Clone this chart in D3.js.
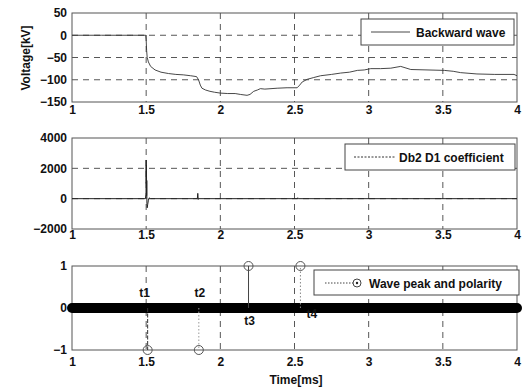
<!DOCTYPE html>
<html>
<head>
<meta charset="utf-8">
<script src="https://cdn.jsdelivr.net/npm/d3@7/dist/d3.min.js"></script>
<style>
  html, body { margin: 0; padding: 0; background: #fff; }
  svg { display: block; }
  text { font-family: "Liberation Sans", Arial, sans-serif; font-weight: bold; fill: #111; }
</style>
</head>
<body>
<svg id="chart" width="526" height="390"></svg>
<script>
// ---------- data ----------
const xTicks = [1, 1.5, 2, 2.5, 3, 3.5, 4];
const xTickLabels = ["1", "1.5", "2", "2.5", "3", "3.5", "4"];

const voltTicks = [50, 0, -50, -100, -150];
const coefTicks = [4000, 2000, 0, -2000];
const peakTicks = [1, 0, -1];

// Backward wave (time ms, voltage kV)
const waveTime = [1.0, 1.2, 1.4, 1.497, 1.5, 1.503, 1.507, 1.515, 1.53, 1.56, 1.6, 1.65, 1.7, 1.75,
  1.8, 1.84, 1.853, 1.865, 1.876, 1.9, 1.93, 1.96, 2.0, 2.05, 2.1, 2.135, 2.18, 2.2, 2.225,
  2.25, 2.27, 2.3, 2.383, 2.45, 2.518, 2.535, 2.552, 2.586, 2.63, 2.676, 2.75, 2.811, 2.87,
  2.924, 2.97, 3.014, 3.08, 3.149, 3.216, 3.284, 3.4, 3.51, 3.57, 3.62, 3.73, 3.85, 3.98, 4.0];
const waveVolt = [0, 0, 0, 0, -10, -34, -50, -60, -70, -78, -83, -86, -88, -89,
  -91, -93, -100, -112, -119, -123, -126, -128, -130, -131, -131, -133, -135, -133, -126,
  -123, -120, -121, -119, -118, -118, -112, -105, -99, -95, -91, -88, -85, -83,
  -79, -78, -75, -75, -74, -70, -77, -78, -79, -81, -84, -87, -88, -88, -91];

// Db2 D1 coefficient
const coefTime = [1.0, 1.495, 1.499, 1.5, 1.501, 1.502, 1.503, 1.504, 1.505, 1.507, 1.51, 1.515,
  1.52, 1.53, 1.845, 1.848, 1.851, 1.855, 2.52, 2.522, 2.525, 4.0];
const coefValue = [0, 0, 300, 2550, 1000, 2200, 200, 1200, -300, -600, -400, -100,
  50, 0, 0, 350, -50, 0, 0, 60, 0, 0];

// Wave peak and polarity
const peakTime = [1.51, 1.855, 2.19, 2.54];
const peakPolarity = [-1, -1, 1, 1];
const peakLabels = ["t1", "t2", "t3", "t4"];
const zeroBandTime = [1, 4];

// ---------- layout ----------
const svg = d3.select("#chart");
const x = d3.scaleLinear().domain([1, 4]).range([72, 517]);
const yV = d3.scaleLinear().domain([-150, 50]).range([102, 13]);
const yC = d3.scaleLinear().domain([-2000, 4000]).range([229, 138]);
const yP = d3.scaleLinear().domain([-1, 1]).range([350, 266]);

const frameColor = "#555";
const gridColor = "#444";

function panel(y, yTicks, xPad) {
  const g = svg.append("g");
  const [y0, y1] = y.range();
  const [x0, x1] = x.range();
  // grid
  g.selectAll(".vg").data(xTicks.slice(1, -1)).enter().append("line")
    .attr("x1", d => x(d)).attr("x2", d => x(d))
    .attr("y1", y1).attr("y2", y0)
    .attr("stroke", gridColor).attr("stroke-width", 0.9).attr("stroke-dasharray", "6,5");
  g.selectAll(".hg").data(yTicks.slice(1, -1)).enter().append("line")
    .attr("x1", x0).attr("x2", x1)
    .attr("y1", d => y(d)).attr("y2", d => y(d))
    .attr("stroke", gridColor).attr("stroke-width", 0.9).attr("stroke-dasharray", "6,5");
  // frame
  g.append("rect").attr("x", x0).attr("y", y1).attr("width", x1 - x0).attr("height", y0 - y1)
    .attr("fill", "none").attr("stroke", frameColor).attr("stroke-width", 1);
  // axes
  const ax = g.append("g").attr("transform", `translate(0,${y0})`)
    .call(d3.axisBottom(x).tickValues(xTicks).tickFormat((d, i) => xTickLabels[i]).tickSize(0).tickPadding(xPad));
  ax.select(".domain").remove();
  const ay = g.append("g").attr("transform", `translate(${x0},0)`)
    .call(d3.axisLeft(y).tickValues(yTicks).tickFormat(d3.format("d")).tickSize(0).tickPadding(5));
  ay.select(".domain").remove();
  g.selectAll(".tick text").attr("font-size", 12).attr("font-family", "Liberation Sans, Arial, sans-serif")
    .attr("font-weight", "bold").attr("fill", "#111");
  return g;
}

// Panel 1
const p1 = panel(yV, voltTicks, 3);
const waveData = waveTime.map((t, i) => [t, waveVolt[i]]);
p1.append("path").datum(waveData)
  .attr("d", d3.line().x(d => x(d[0])).y(d => yV(d[1])))
  .attr("fill", "none").attr("stroke", "#333").attr("stroke-width", 0.9);
svg.append("text").attr("transform", "translate(30,58) rotate(-90)")
  .attr("text-anchor", "middle").attr("font-size", 12).text("Voltage[kV]");

// legend 1
svg.append("rect").attr("x", 361).attr("y", 19).attr("width", 153).attr("height", 26)
  .attr("fill", "#fff").attr("stroke", "#444").attr("stroke-width", 1);
svg.append("line").attr("x1", 371).attr("x2", 410).attr("y1", 32).attr("y2", 32)
  .attr("stroke", "#333").attr("stroke-width", 0.9);
svg.append("text").attr("x", 416).attr("y", 36.5).attr("font-size", 12).text("Backward wave");

// Panel 2
const p2 = panel(yC, coefTicks, 1);
const coefData = coefTime.map((t, i) => [t, coefValue[i]]);
p2.append("path").datum(coefData)
  .attr("d", d3.line().x(d => x(d[0])).y(d => yC(d[1])))
  .attr("fill", "none").attr("stroke", "#222").attr("stroke-width", 1);

svg.append("rect").attr("x", 345).attr("y", 144).attr("width", 170).attr("height", 26)
  .attr("fill", "#fff").attr("stroke", "#444").attr("stroke-width", 1);
svg.append("line").attr("x1", 354).attr("x2", 396).attr("y1", 157).attr("y2", 157)
  .attr("stroke", "#333").attr("stroke-width", 1).attr("stroke-dasharray", "2,1.5");
svg.append("text").attr("x", 399).attr("y", 161.5).attr("font-size", 12).text("Db2 D1 coefficient");

// Panel 3
const p3 = panel(yP, peakTicks, 7);
const stemStyles = [
  { color: "#333", dash: "4,1.5" },
  { color: "#999", dash: "1.5,2" },
  { color: "#444", dash: null },
  { color: "#888", dash: "1.5,2" }
];
// zero band (markers at zero along time axis)
p3.append("path").datum(zeroBandTime.map(t => [t, 0]))
  .attr("d", d3.line().x(d => x(d[0])).y(d => yP(d[1])))
  .attr("stroke", "#000").attr("stroke-width", 10).attr("stroke-linecap", "round");
peakTime.forEach((t, i) => {
  const s = stemStyles[i];
  p3.append("line").attr("x1", x(t)).attr("x2", x(t))
    .attr("y1", yP(0)).attr("y2", yP(peakPolarity[i]))
    .attr("stroke", s.color).attr("stroke-width", 1)
    .attr("stroke-dasharray", s.dash);
  p3.append("circle").attr("cx", x(t)).attr("cy", yP(peakPolarity[i])).attr("r", 4.5)
    .attr("fill", "none").attr("stroke", "#555").attr("stroke-width", 1);
});
const labelOffsets = [[-3, -11], [1, -11], [1, 17], [6, 10]];
peakTime.forEach((t, i) => {
  p3.append("text").attr("x", x(t) + labelOffsets[i][0]).attr("y", yP(0) + labelOffsets[i][1])
    .attr("text-anchor", i === 3 ? "start" : "middle").attr("font-size", 12).text(peakLabels[i]);
});

svg.append("rect").attr("x", 314).attr("y", 270).attr("width", 205).attr("height", 25)
  .attr("fill", "#fff").attr("stroke", "#444").attr("stroke-width", 1);
svg.append("line").attr("x1", 325).attr("x2", 357).attr("y1", 283).attr("y2", 283)
  .attr("stroke", "#444").attr("stroke-width", 1).attr("stroke-dasharray", "1.5,1.5");
svg.append("circle").attr("cx", 357).attr("cy", 283).attr("r", 4)
  .attr("fill", "#fff").attr("stroke", "#444").attr("stroke-width", 1);
svg.append("circle").attr("cx", 357).attr("cy", 283).attr("r", 1.2).attr("fill", "#222");
svg.append("text").attr("x", 369).attr("y", 287.5).attr("font-size", 12).text("Wave peak and polarity");

svg.append("text").attr("x", 296).attr("y", 384).attr("text-anchor", "middle")
  .attr("font-size", 12).text("Time[ms]");
</script>
</body>
</html>
